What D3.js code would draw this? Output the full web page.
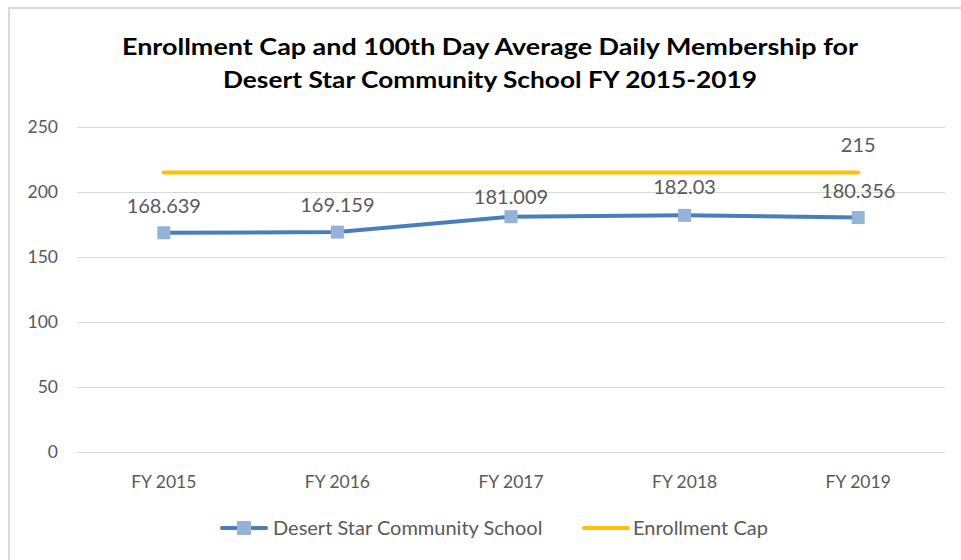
<!DOCTYPE html>
<html>
<head>
<meta charset="utf-8">
<script src="https://cdn.jsdelivr.net/npm/d3@7"></script>
<style>
  body { margin: 0; background: #fff; }
  text { font-family: Lato, "Open Sans", sans-serif; }
</style>
</head>
<body>
<div id="chart"></div>
<script>
// data
var years = ["FY 2015", "FY 2016", "FY 2017", "FY 2018", "FY 2019"];
var membership = [168.639, 169.159, 181.009, 182.03, 180.356];
var enrollCap = [215, 215, 215, 215, 215];
var yTicks = [0, 50, 100, 150, 200, 250];
var seriesNames = ["Desert Star Community School", "Enrollment Cap"];
var titleLines = ["Enrollment Cap and 100th Day Average Daily Membership for",
                  "Desert Star Community School FY 2015-2019"];
// small nudges for label placement (px), like Excel does
var labelNudge = [0, 0, 7, -1, 0];

var w = 961, h = 560;
var blue = "#4a7ebb", marker = "#95b3d7", gold = "#ffc000", grey = "#595959";

var svg = d3.select("#chart").append("svg")
  .attr("width", w).attr("height", h);

// chart border
svg.append("rect")
  .attr("x", 9).attr("y", 8)
  .attr("width", w + 20).attr("height", h + 20)
  .attr("fill", "none")
  .attr("stroke", "#d9d9d9")
  .attr("stroke-width", 2);

var x = d3.scaleBand().domain(years).range([77, 945]).padding(0);
var y = d3.scaleLinear().domain([0, 250]).range([452, 127]);
var cx = function(d) { return x(d) + x.bandwidth() / 2; };

// title
svg.selectAll(".title")
  .data(titleLines)
  .enter().append("text")
  .attr("class", "title")
  .attr("x", 490)
  .attr("y", function(d, i) { return 55 + i * 33; })
  .attr("text-anchor", "middle")
  .attr("font-size", "23px")
  .attr("font-weight", "bold")
  .attr("fill", "#000")
  .attr("textLength", function(d, i) { return i == 0 ? 736 : 534; })
  .attr("lengthAdjust", "spacingAndGlyphs")
  .text(function(d) { return d; });

// gridlines + y labels
var yAxis = d3.axisLeft(y).tickValues(yTicks).tickSize(-(945 - 77)).tickPadding(19);
var gy = svg.append("g").attr("transform", "translate(77,0)").call(yAxis);
gy.select(".domain").remove();
gy.selectAll(".tick line").attr("stroke", "#d9d9d9");
gy.selectAll(".tick text")
  .attr("fill", grey)
  .attr("font-size", "17.5px")
  .attr("font-family", "Lato, sans-serif");

// x labels
var xAxis = d3.axisBottom(x).tickSize(0).tickPadding(24);
var gx = svg.append("g").attr("transform", "translate(0,452)").call(xAxis);
gx.select(".domain").remove();
gx.selectAll(".tick text")
  .attr("fill", grey)
  .attr("font-size", "17.5px")
  .attr("font-family", "Lato, sans-serif");

// enrollment cap line
var line = d3.line()
  .x(function(d, i) { return cx(years[i]); })
  .y(function(d) { return y(d); });

svg.append("path")
  .datum(enrollCap)
  .attr("d", line)
  .attr("fill", "none")
  .attr("stroke", gold)
  .attr("stroke-width", 4)
  .attr("stroke-linecap", "round");

// membership line
svg.append("path")
  .datum(membership)
  .attr("d", line)
  .attr("fill", "none")
  .attr("stroke", blue)
  .attr("stroke-width", 4)
  .attr("stroke-linecap", "round");

svg.selectAll(".pt")
  .data(membership)
  .enter().append("rect")
  .attr("class", "pt")
  .attr("x", function(d, i) { return cx(years[i]) - 6.5; })
  .attr("y", function(d) { return y(d) - 6.5; })
  .attr("width", 13).attr("height", 13)
  .attr("fill", marker);

// data labels
svg.selectAll(".lbl")
  .data(membership)
  .enter().append("text")
  .attr("class", "lbl")
  .attr("x", function(d, i) { return cx(years[i]); })
  .attr("y", function(d, i) { return y(d) - 20 + labelNudge[i]; })
  .attr("text-anchor", "middle")
  .attr("font-size", "20px")
  .attr("fill", grey)
  .text(function(d) { return d; });

svg.append("text")
  .attr("x", cx(years[4]))
  .attr("y", y(enrollCap[4]) - 21)
  .attr("text-anchor", "middle")
  .attr("font-size", "20px")
  .attr("fill", grey)
  .text(enrollCap[4]);

// legend
var legX = [220, 582];
var leg = svg.selectAll(".leg")
  .data(seriesNames)
  .enter().append("g")
  .attr("class", "leg")
  .attr("transform", function(d, i) { return "translate(" + legX[i] + ",528)"; });

leg.append("line")
  .attr("x1", 2).attr("x2", 46)
  .attr("stroke", function(d, i) { return i == 0 ? blue : gold; })
  .attr("stroke-width", 4)
  .attr("stroke-linecap", "round");

leg.filter(function(d, i) { return i == 0; })
  .append("rect")
  .attr("x", 17).attr("y", -7)
  .attr("width", 14).attr("height", 14)
  .attr("fill", marker);

leg.append("text")
  .attr("x", function(d, i) { return i == 0 ? 53 : 51; })
  .attr("y", 7)
  .attr("font-size", "20px")
  .attr("fill", grey)
  .text(function(d) { return d; });
</script>
</body>
</html>
